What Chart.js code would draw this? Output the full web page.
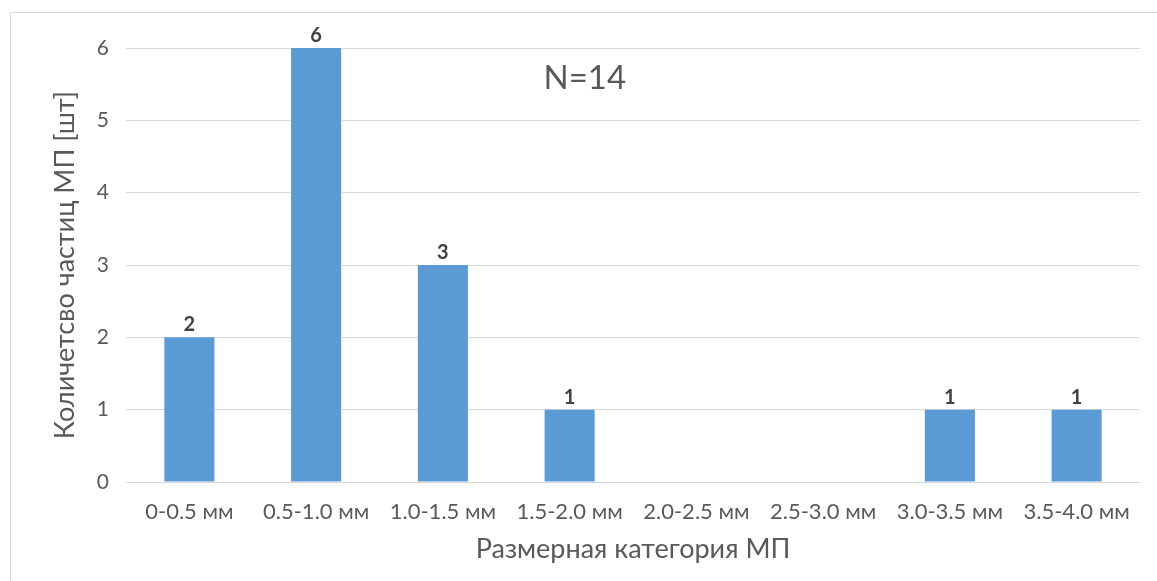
<!DOCTYPE html>
<html>
<head>
<meta charset="utf-8">
<script src="https://cdn.jsdelivr.net/npm/chart.js@4/dist/chart.umd.min.js"></script>
<style>
  html, body { margin: 0; padding: 0; background: #fff; }
  #wrap { position: relative; width: 1157px; height: 581px; }
  #frame { position: absolute; left: 10px; top: 12px; width: 1160px; height: 600px; border: 1px solid #d9d9d9; box-sizing: border-box; }
  canvas { position: absolute; left: 0; top: 0; }
</style>
</head>
<body>
<div id="wrap">
  <div id="frame"></div>
  <canvas id="c" width="1157" height="581"></canvas>
</div>
<script>
const categories = ["0-0.5 мм", "0.5-1.0 мм", "1.0-1.5 мм", "1.5-2.0 мм", "2.0-2.5 мм", "2.5-3.0 мм", "3.0-3.5 мм", "3.5-4.0 мм"];
const counts = [2, 6, 3, 1, 0, 0, 1, 1];
const yTicks = [0, 1, 2, 3, 4, 5, 6];
const xTitle = "Размерная категория МП";
const yTitle = "Количетсво частиц МП [шт]";
const note = "N=14";

const FONT = "Lato, 'Open Sans', 'DejaVu Sans', sans-serif";

const labelPlugin = {
  id: 'barLabels',
  afterDatasetsDraw(chart) {
    const ctx = chart.ctx;
    const meta = chart.getDatasetMeta(0);
    ctx.save();
    ctx.font = "bold 20px " + FONT;
    ctx.fillStyle = "#404040";
    ctx.textAlign = "center";
    ctx.textBaseline = "alphabetic";
    meta.data.forEach((bar, i) => {
      if (counts[i] > 0) ctx.fillText(String(counts[i]), bar.x, bar.y - 6);
    });
    // N annotation
    const xs = chart.scales.x, ys = chart.scales.y;
    ctx.font = "33px " + FONT;
    ctx.fillStyle = "#595959";
    ctx.textBaseline = "middle";
    ctx.fillText(note, xs.getPixelForValue(3.12), ys.getPixelForValue(5.58));
    ctx.restore();
  }
};

new Chart(document.getElementById('c'), {
  type: 'bar',
  data: {
    labels: categories,
    datasets: [{
      data: counts,
      backgroundColor: '#5b9bd5',
      borderWidth: 0,
      barPercentage: 0.79,
      categoryPercentage: 0.5
    }]
  },
  options: {
    responsive: false,
    animation: false,
    layout: { padding: { left: 40, right: 17, top: 48, bottom: 14 } },
    plugins: { legend: { display: false }, tooltip: { enabled: false } },
    scales: {
      x: {
        grid: { display: false, drawTicks: false },
        border: { display: true, color: '#d9d9d9', width: 1 },
        ticks: { color: '#595959', font: { family: FONT, size: 22 }, padding: 17, maxRotation: 0, autoSkip: false },
        title: { display: true, text: xTitle, color: '#595959', font: { family: FONT, size: 27 }, padding: { top: 4, bottom: 2 } },
        afterFit(s) { s.height = 85; }
      },
      y: {
        min: 0, max: 6,
        afterBuildTicks(s) { s.ticks = yTicks.map(v => ({ value: v })); },
        grid: { color: '#d9d9d9', drawTicks: false },
        border: { display: false },
        ticks: { color: '#595959', font: { family: FONT, size: 21 }, padding: 17 },
        title: { display: true, text: yTitle, color: '#595959', font: { family: FONT, size: 27 }, padding: { top: 9, bottom: 0 } },
        afterFit(s) { s.width = 86; }
      }
    }
  },
  plugins: [labelPlugin]
});
</script>
</body>
</html>
